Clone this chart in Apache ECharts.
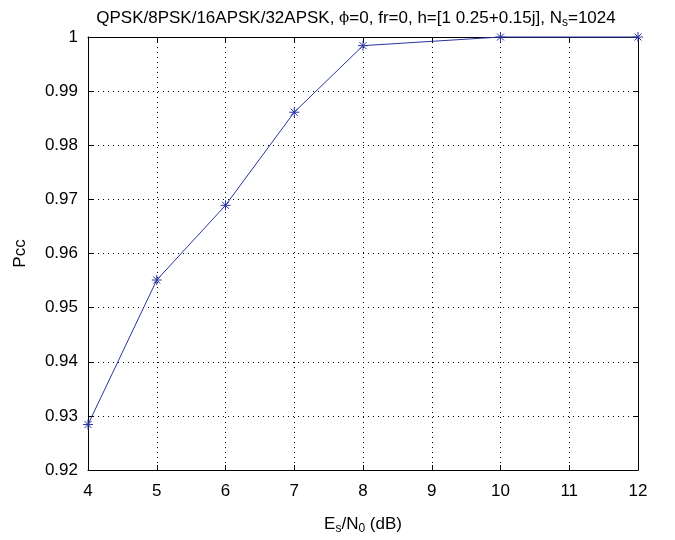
<!DOCTYPE html>
<html><head><meta charset="utf-8">
<script src="https://cdn.jsdelivr.net/npm/echarts@6/dist/echarts.min.js"></script>
<style>html,body{margin:0;padding:0;background:#fff}#c{width:675px;height:540px}</style>
</head><body><div id="c"></div>
<script>
const xValues = [4, 5, 6, 7, 8, 10, 12];
const pccValues = [0.9284, 0.9551, 0.9689, 0.9861, 0.9984, 1.0, 1.0];
const xTicks = [4, 5, 6, 7, 8, 9, 10, 11, 12];
const yTicks = [0.92, 0.93, 0.94, 0.95, 0.96, 0.97, 0.98, 0.99, 1];

const lineColor = '#2a35a0';
const font = 'Liberation Sans, Arial, sans-serif';
const star = 'path://M0,-10 L0,10 M-10,0 L10,0 M-7,-7 L7,7 M-7,7 L7,-7';

const chart = echarts.init(document.getElementById('c'), null, {renderer: 'canvas'});
const axisLine = {show: true, lineStyle: {color: '#000', width: 1}};
const tick = {show: true, inside: true, length: 5, lineStyle: {color: '#000'}};
chart.setOption({
  animation: false,
  backgroundColor: '#fff',
  title: {
    text: '{t|QPSK/8PSK/16APSK/32APSK, }{g|ϕ}{t|=0, fr=0, h=[1 0.25+0.15j], N}{s|s}{t|=1024}',
    left: 351, top: 3, textAlign: 'center',
    textStyle: {
      fontWeight: 'normal',
      rich: {
        t: {fontFamily: font, fontSize: 17, color: '#000', fontWeight: 'normal'},
        g: {fontFamily: 'DejaVu Serif, serif', fontSize: 15, color: '#000', fontWeight: 'normal'},
        s: {fontFamily: font, fontSize: 12, color: '#000', fontWeight: 'normal', padding: [9, 0, 0, 0]}
      }
    }
  },
  grid: {left: 88, right: 37, top: 37, bottom: 70, containLabel: false},
  xAxis: [{
    type: 'value', min: 4, max: 12, interval: 1,
    axisLine, axisTick: tick,
    axisLabel: {fontFamily: font, fontSize: 17, color: '#000', margin: 13},
    splitLine: {show: true, lineStyle: {color: '#000', type: [1, 4], width: 1}},
    name: '{t|E}{s|s}{t|/N}{s|0}{t| (dB)}',
    nameLocation: 'middle', nameGap: 44, nameMoveOverlap: false,
    nameTextStyle: {rich: {
      t: {fontFamily: font, fontSize: 17, color: '#000'},
      s: {fontFamily: font, fontSize: 12, color: '#000', padding: [9, 0, 0, 0]}
    }}
  }, {
    type: 'value', min: 4, max: 12, interval: 1, position: 'top',
    axisLine, axisTick: tick, axisLabel: {show: false}, splitLine: {show: false}
  }],
  yAxis: [{
    type: 'value', min: 0.92, max: 1, interval: 0.01,
    axisLine, axisTick: tick,
    axisLabel: {fontFamily: font, fontSize: 17, color: '#000', margin: 10,
      formatter: v => String(parseFloat(v.toFixed(2)))},
    splitLine: {show: true, lineStyle: {color: '#000', type: [1, 4], width: 1}},
    name: 'Pcc', nameLocation: 'middle', nameGap: 59, nameMoveOverlap: false,
    nameTextStyle: {fontFamily: font, fontSize: 17, color: '#000'}
  }, {
    type: 'value', min: 0.92, max: 1, interval: 0.01, position: 'right',
    axisLine, axisTick: tick, axisLabel: {show: false}, splitLine: {show: false}
  }],
  series: [{
    type: 'line',
    data: xValues.map((x, i) => [x, pccValues[i]]),
    lineStyle: {color: lineColor, width: 1},
    symbol: star, symbolSize: 10,
    itemStyle: {color: 'rgba(0,0,0,0)', borderColor: lineColor, borderWidth: 1},
    clip: false
  }]
});
</script></body></html>
